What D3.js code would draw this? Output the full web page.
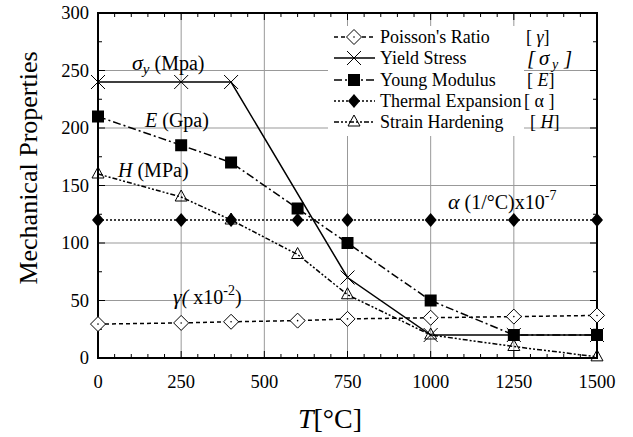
<!DOCTYPE html>
<html>
<head>
<meta charset="utf-8">
<script src="https://cdn.jsdelivr.net/npm/d3@7"></script>
<style>
  body { margin: 0; background: #fff; }
  text { font-family: "Liberation Serif", "Times New Roman", serif; fill: #000; }
</style>
</head>
<body>
<script>
// data
var temps = [0, 250, 400, 600, 750, 1000, 1250, 1500];
var poisson = [29.5, 30.5, 31.5, 32.5, 34, 35, 36, 37];
var yieldTemps = [0, 250, 400, 750, 1000, 1250, 1500];
var yieldStress = [240, 240, 240, 70, 20, 20, 20];
var young = [210, 185, 170, 130, 100, 50, 20, 20];
var thermal = [120, 120, 120, 120, 120, 120, 120, 120];
var hardening = [160, 140, 120, 90, 55, 20, 10, 1];
var xTicks = [0, 250, 500, 750, 1000, 1250, 1500];
var yTicks = [0, 50, 100, 150, 200, 250, 300];

function main() {
  var width = 633, height = 437;
  var left = 98, right = 597, top = 13, bottom = 358;

  var svg = d3.select("body").append("svg")
    .attr("width", width).attr("height", height);

  var x = d3.scaleLinear().domain([0, 1500]).range([left, right]);
  var y = d3.scaleLinear().domain([0, 300]).range([bottom, top]);

  // grid
  svg.append("g").selectAll("line").data(xTicks.slice(1, -1)).enter().append("line")
    .attr("x1", d => x(d)).attr("x2", d => x(d)).attr("y1", top).attr("y2", bottom)
    .attr("stroke", "#999").attr("stroke-width", 1);
  svg.append("g").selectAll("line").data(yTicks.slice(1, -1)).enter().append("line")
    .attr("y1", d => y(d)).attr("y2", d => y(d)).attr("x1", left).attr("x2", right)
    .attr("stroke", "#999").attr("stroke-width", 1);

  // white legend box hides the grid
  svg.append("rect").attr("x", 328).attr("y", 26).attr("width", 196).attr("height", 110)
    .attr("fill", "#fff");

  // inward ticks on all four sides
  var ticks = svg.append("g").attr("stroke", "#000").attr("stroke-width", 1);
  d3.range(0, 1501, 50).forEach(function (v) {
    var len = v % 250 === 0 ? 7 : 4;
    ticks.append("line").attr("x1", x(v)).attr("x2", x(v)).attr("y1", bottom).attr("y2", bottom - len);
    ticks.append("line").attr("x1", x(v)).attr("x2", x(v)).attr("y1", top).attr("y2", top + len);
  });
  d3.range(0, 301, 25).forEach(function (v) {
    var len = v % 50 === 0 ? 7 : 4;
    ticks.append("line").attr("y1", y(v)).attr("y2", y(v)).attr("x1", left).attr("x2", left + len);
    ticks.append("line").attr("y1", y(v)).attr("y2", y(v)).attr("x1", right).attr("x2", right - len);
  });

  // frame
  svg.append("rect").attr("x", left).attr("y", top).attr("width", right - left).attr("height", bottom - top)
    .attr("fill", "none").attr("stroke", "#000").attr("stroke-width", 2);

  // tick labels
  svg.append("g").selectAll("text").data(xTicks).enter().append("text")
    .attr("x", d => x(d)).attr("y", bottom + 30).attr("text-anchor", "middle")
    .attr("font-size", 18.5).text(d => d);
  svg.append("g").selectAll("text").data(yTicks).enter().append("text")
    .attr("x", left - 9).attr("y", d => y(d) + 6).attr("text-anchor", "end")
    .attr("font-size", 18.5).text(d => d);

  // axis titles
  svg.append("text").attr("transform", "translate(37," + 168 + ") rotate(-90)")
    .attr("text-anchor", "middle").attr("font-size", 26).text("Mechanical Properties");
  var xt = svg.append("text").attr("x", 330).attr("y", 428).attr("text-anchor", "middle").attr("font-size", 28);
  xt.append("tspan").attr("font-style", "italic").text("T");
  xt.append("tspan").text("[°C]");

  // series
  var series = [
    { name: "Poisson's Ratio", xs: temps, ys: poisson, dash: "4,3", marker: "diamondOpen" },
    { name: "Yield Stress", xs: yieldTemps, ys: yieldStress, dash: null, marker: "cross" },
    { name: "Young Modulus", xs: temps, ys: young, dash: "8,3,2,3", marker: "square" },
    { name: "Thermal Expansion", xs: temps, ys: thermal, dash: "2,2", marker: "diamond" },
    { name: "Strain Hardening", xs: temps, ys: hardening, dash: "5,2,2,2,2,2", marker: "triangle" }
  ];

  function drawMarker(g, type, cx, cy) {
    if (type === "diamondOpen") {
      g.append("path").attr("d", "M" + cx + "," + (cy - 7.5) + "L" + (cx + 7.5) + "," + cy + "L" + cx + "," + (cy + 7.5) + "L" + (cx - 7.5) + "," + cy + "Z")
        .attr("fill", "#fff").attr("stroke", "#000").attr("stroke-width", 1);
      g.append("circle").attr("cx", cx).attr("cy", cy).attr("r", 0.8).attr("fill", "#000");
    } else if (type === "cross") {
      g.append("path").attr("d", "M" + (cx - 7) + "," + (cy - 7) + "L" + (cx + 7) + "," + (cy + 7) + "M" + (cx - 7) + "," + (cy + 7) + "L" + (cx + 7) + "," + (cy - 7))
        .attr("stroke", "#000").attr("stroke-width", 1).attr("fill", "none");
    } else if (type === "square") {
      g.append("rect").attr("x", cx - 6).attr("y", cy - 6).attr("width", 12).attr("height", 12).attr("fill", "#000");
    } else if (type === "diamond") {
      g.append("path").attr("d", "M" + cx + "," + (cy - 7) + "L" + (cx + 6) + "," + cy + "L" + cx + "," + (cy + 7) + "L" + (cx - 6) + "," + cy + "Z")
        .attr("fill", "#000");
    } else if (type === "triangle") {
      g.append("path").attr("d", "M" + cx + "," + (cy - 7) + "L" + (cx + 6) + "," + (cy + 4) + "L" + (cx - 6) + "," + (cy + 4) + "Z")
        .attr("fill", "none").attr("stroke", "#000").attr("stroke-width", 1);
    }
  }

  var line = d3.line().x(d => x(d[0])).y(d => y(d[1]));
  series.forEach(function (s) {
    var pts = s.xs.map((t, i) => [t, s.ys[i]]);
    svg.append("path").datum(pts).attr("d", line)
      .attr("fill", "none").attr("stroke", "#000").attr("stroke-width", 1.5)
      .attr("stroke-dasharray", s.dash);
    var g = svg.append("g");
    pts.forEach(p => drawMarker(g, s.marker, x(p[0]), y(p[1])));
  });

  // legend
  var rowY = [37, 58, 80, 101, 122];
  series.forEach(function (s, i) {
    var cy = rowY[i];
    svg.append("line").attr("x1", 334).attr("x2", 375).attr("y1", cy).attr("y2", cy)
      .attr("stroke", "#000").attr("stroke-width", 1.5).attr("stroke-dasharray", s.dash);
    drawMarker(svg.append("g"), s.marker, 354, cy);
    svg.append("text").attr("x", 380).attr("y", cy + 6).attr("font-size", 18).text(s.name);
  });
  var br = function (i) { return svg.append("text").attr("y", rowY[i] + 6).attr("font-size", 18); };
  var b0 = br(0).attr("x", 526); b0.append("tspan").text("[ "); b0.append("tspan").attr("font-style", "italic").text("γ"); b0.append("tspan").text("]");
  // [ σy ] drawn as separate pieces
  svg.append("text").attr("x", 527).attr("y", rowY[1] + 7).attr("font-size", 21).attr("font-style", "italic").text("[");
  svg.append("text").attr("x", 539).attr("y", rowY[1] + 7).attr("font-size", 21).attr("font-style", "italic").text("σ");
  svg.append("text").attr("x", 552).attr("y", rowY[1] + 11).attr("font-size", 14).attr("font-style", "italic").text("y");
  svg.append("text").attr("x", 564).attr("y", rowY[1] + 7).attr("font-size", 21).attr("font-style", "italic").text("]");
  var b2 = br(2).attr("x", 527); b2.append("tspan").text("[ "); b2.append("tspan").attr("font-style", "italic").text("E"); b2.append("tspan").text("]");
  var b3 = br(3).attr("x", 524); b3.append("tspan").text("[ α ]");
  var b4 = br(4).attr("x", 530); b4.append("tspan").text("[ "); b4.append("tspan").attr("font-style", "italic").text("H"); b4.append("tspan").text("]");

  // annotations
  var a1 = svg.append("text").attr("x", 132).attr("y", 70).attr("font-size", 20);
  a1.append("tspan").attr("font-style", "italic").attr("font-size", 22).text("σ");
  a1.append("tspan").attr("font-style", "italic").attr("font-size", 15).attr("dy", 4).text("y");
  a1.append("tspan").attr("dy", -4).text(" (Mpa)");
  var a2 = svg.append("text").attr("x", 145).attr("y", 127).attr("font-size", 20);
  a2.append("tspan").attr("font-style", "italic").text("E");
  a2.append("tspan").text(" (Gpa)");
  var a3 = svg.append("text").attr("x", 118).attr("y", 177).attr("font-size", 20);
  a3.append("tspan").attr("font-style", "italic").text("H");
  a3.append("tspan").text(" (MPa)");
  var a4 = svg.append("text").attr("x", 448).attr("y", 209).attr("font-size", 20);
  a4.append("tspan").attr("font-style", "italic").attr("font-size", 22).text("α");
  a4.append("tspan").text(" (1/°C)x10");
  a4.append("tspan").attr("font-size", 14).attr("dy", -9).text("-7");
  var a5 = svg.append("text").attr("x", 173).attr("y", 304).attr("font-size", 20);
  a5.append("tspan").attr("font-style", "italic").attr("font-size", 22).text("γ");
  a5.append("tspan").attr("font-style", "italic").text("( ");
  a5.append("tspan").text("x10");
  a5.append("tspan").attr("font-size", 14).attr("dy", -9).text("-2");
  a5.append("tspan").attr("dy", 9).text(")");
}
document.addEventListener("DOMContentLoaded", main);
</script>
</body>
</html>
